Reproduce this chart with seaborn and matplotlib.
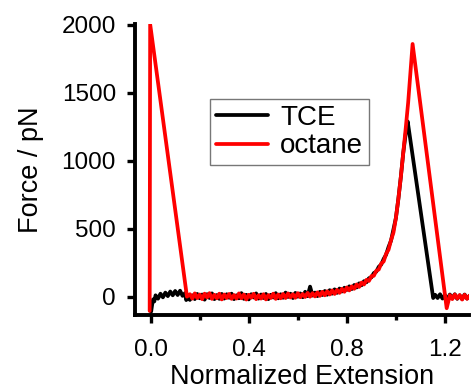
import matplotlib
matplotlib.use("Agg")
import matplotlib.pyplot as plt
import seaborn as sns
import pandas as pd
from matplotlib.ticker import MultipleLocator

# Force-extension traces (normalized extension, force in pN)
tce_x = [0.002, 0.006, 0.010, 0.015, 0.020, 0.030, 0.040, 0.050, 0.060, 0.070,
         0.080, 0.090, 0.100, 0.110, 0.120, 0.130, 0.140, 0.145, 0.150, 0.160,
         0.170, 0.180, 0.190, 0.200, 0.210, 0.220, 0.230, 0.240, 0.250, 0.260,
         0.270, 0.280, 0.290, 0.300, 0.310, 0.320, 0.330, 0.340, 0.350, 0.360,
         0.370, 0.380, 0.390, 0.400, 0.410, 0.420, 0.430, 0.440, 0.450, 0.460,
         0.470, 0.480, 0.490, 0.500, 0.510, 0.520, 0.530, 0.540, 0.550, 0.560,
         0.570, 0.580, 0.590, 0.600, 0.610, 0.620, 0.630, 0.640, 0.650, 0.660,
         0.670, 0.680, 0.690, 0.700, 0.710, 0.720, 0.730, 0.740, 0.750, 0.760,
         0.770, 0.780, 0.790, 0.800, 0.810, 0.820, 0.830, 0.840, 0.850, 0.860,
         0.870, 0.880, 0.890, 0.900, 0.910, 0.920, 0.930, 0.940, 0.950, 0.960,
         0.970, 0.980, 0.990, 1.000, 1.010, 1.020, 1.030, 1.040, 1.048, 1.152,
         1.160, 1.170, 1.180, 1.190, 1.200, 1.210, 1.220, 1.230, 1.240, 1.250,
         1.260, 1.270, 1.280, 1.290, 1.300]
tce_f = [-110, -60, -20, -35, 10, -15, 22, -5, 30, 4,
         38, 10, 42, 12, 44, 6, 26, -25, -5, -24,
         10, -18, 20, -12, 16, -22, 18, -10, 24, -18,
         12, -16, 20, -14, 18, -8, 22, -18, 10, -12,
         26, -16, 14, -20, 18, -6, 24, -14, 16, -10,
         20, -18, 14, -6, 26, -12, 18, -8, 30, -2,
         22, -10, 28, 0, 24, -4, 36, 4, 74, 8,
         30, 4, 36, 12, 42, 14, 48, 22, 54, 28,
         60, 38, 66, 50, 76, 56, 86, 68, 98, 84,
         114, 106, 136, 142, 174, 184, 220, 236, 278, 309,
         366, 412, 496, 580, 720, 880, 1060, 1200, 1290, -10,
         14, -10, 18, -14, 12, -20, 16, -12, 18, -16,
         10, -18, 16, -14, 6]

oct_x = [-0.004, -0.002, 0.148, 0.160, 0.170, 0.180, 0.190, 0.200, 0.210, 0.220,
         0.230, 0.240, 0.250, 0.260, 0.270, 0.280, 0.290, 0.300, 0.310, 0.320,
         0.330, 0.340, 0.350, 0.360, 0.370, 0.380, 0.390, 0.400, 0.410, 0.420,
         0.430, 0.440, 0.450, 0.460, 0.470, 0.480, 0.490, 0.500, 0.510, 0.520,
         0.530, 0.540, 0.550, 0.560, 0.570, 0.580, 0.590, 0.600, 0.610, 0.620,
         0.630, 0.640, 0.650, 0.660, 0.670, 0.680, 0.690, 0.700, 0.710, 0.720,
         0.730, 0.740, 0.750, 0.760, 0.770, 0.780, 0.790, 0.800, 0.810, 0.820,
         0.830, 0.840, 0.850, 0.860, 0.870, 0.880, 0.890, 0.900, 0.910, 0.920,
         0.930, 0.940, 0.950, 0.960, 0.970, 0.980, 0.990, 1.000, 1.010, 1.020,
         1.030, 1.040, 1.050, 1.068, 1.207, 1.220, 1.230, 1.240, 1.250, 1.260,
         1.270, 1.280, 1.290, 1.300]
oct_f = [-105, 2005, 0, 18, -14, 24, -10, 16, -18, 22,
         -6, 26, -16, 14, -12, 22, -20, 16, -10, 20,
         -16, 12, -14, 24, -12, 16, -21, 14, -8, 21,
         -18, 11, -14, 18, -20, 12, -10, 22, -16, 16,
         -12, 20, -10, 24, -6, 18, -8, 26, -4, 20,
         -2, 28, 0, 26, 2, 32, 6, 36, 10, 40,
         16, 46, 20, 50, 28, 58, 36, 68, 46, 76,
         58, 90, 72, 104, 90, 124, 116, 151, 154, 191,
         200, 244, 259, 316, 346, 416, 472, 580, 720, 880,
         1060, 1240, 1430, 1860, -85, 11, -18, 16, -14, 12,
         -21, 14, -16, 8]

df = pd.concat([
    pd.DataFrame({"ext": tce_x, "force": tce_f, "solvent": "TCE"}),
    pd.DataFrame({"ext": oct_x, "force": oct_f, "solvent": "octane"}),
], ignore_index=True)

sns.set_style("ticks")
plt.rcParams["font.family"] = ["Liberation Sans", "DejaVu Sans"]
plt.rcParams.update({
    "axes.edgecolor": "black",
    "axes.labelcolor": "black",
    "text.color": "black",
    "xtick.color": "black",
    "ytick.color": "black",
})

fig = plt.figure(figsize=(4.71, 3.92), dpi=100)
ax = fig.add_axes([0.286, 0.1957, 0.7108, 0.7441])

sns.lineplot(data=df, x="ext", y="force", hue="solvent",
             palette={"TCE": "#000000", "octane": "#ff0000"},
             estimator=None, sort=False, linewidth=2.7, ax=ax)

ax.set_xlim(-0.065, 1.30)
ax.set_ylim(-137, 2010)
ax.set_xticks([0.0, 0.4, 0.8, 1.2])
ax.set_xticklabels(["0.0", "0.4", "0.8", "1.2"])
ax.xaxis.set_minor_locator(MultipleLocator(0.2))
ax.set_yticks([0, 500, 1000, 1500, 2000])

for side in ("top", "right"):
    ax.spines[side].set_visible(False)
for side in ("left", "bottom"):
    ax.spines[side].set_linewidth(2.8)
    ax.spines[side].set_color("black")

ax.tick_params(axis="both", which="major", direction="out", length=6,
               width=2.4, labelsize=17.5, color="black", labelcolor="black")
ax.tick_params(axis="y", which="major", pad=7.5)
ax.tick_params(axis="x", which="major", pad=11)
ax.tick_params(axis="x", which="minor", direction="out", length=3.5,
               width=2.4, color="black")
ax.tick_params(axis="y", which="minor", left=False)

ax.set_xlabel("Normalized Extension", fontsize=19.5, labelpad=2)
ax.set_ylabel("Force / pN", fontsize=19.5, labelpad=12.5)

leg = ax.legend(loc="upper left", bbox_to_anchor=(0.225, 0.7415),
                borderaxespad=0, fontsize=20, frameon=True, fancybox=False,
                handlelength=1.9, handletextpad=0.42, borderpad=0.2,
                labelspacing=0.1, title=None)
leg.get_frame().set_edgecolor("#555555")
leg.get_frame().set_linewidth(1.0)
for line in leg.get_lines():
    line.set_linewidth(2.7)

fig.savefig("out.png", dpi=100)
